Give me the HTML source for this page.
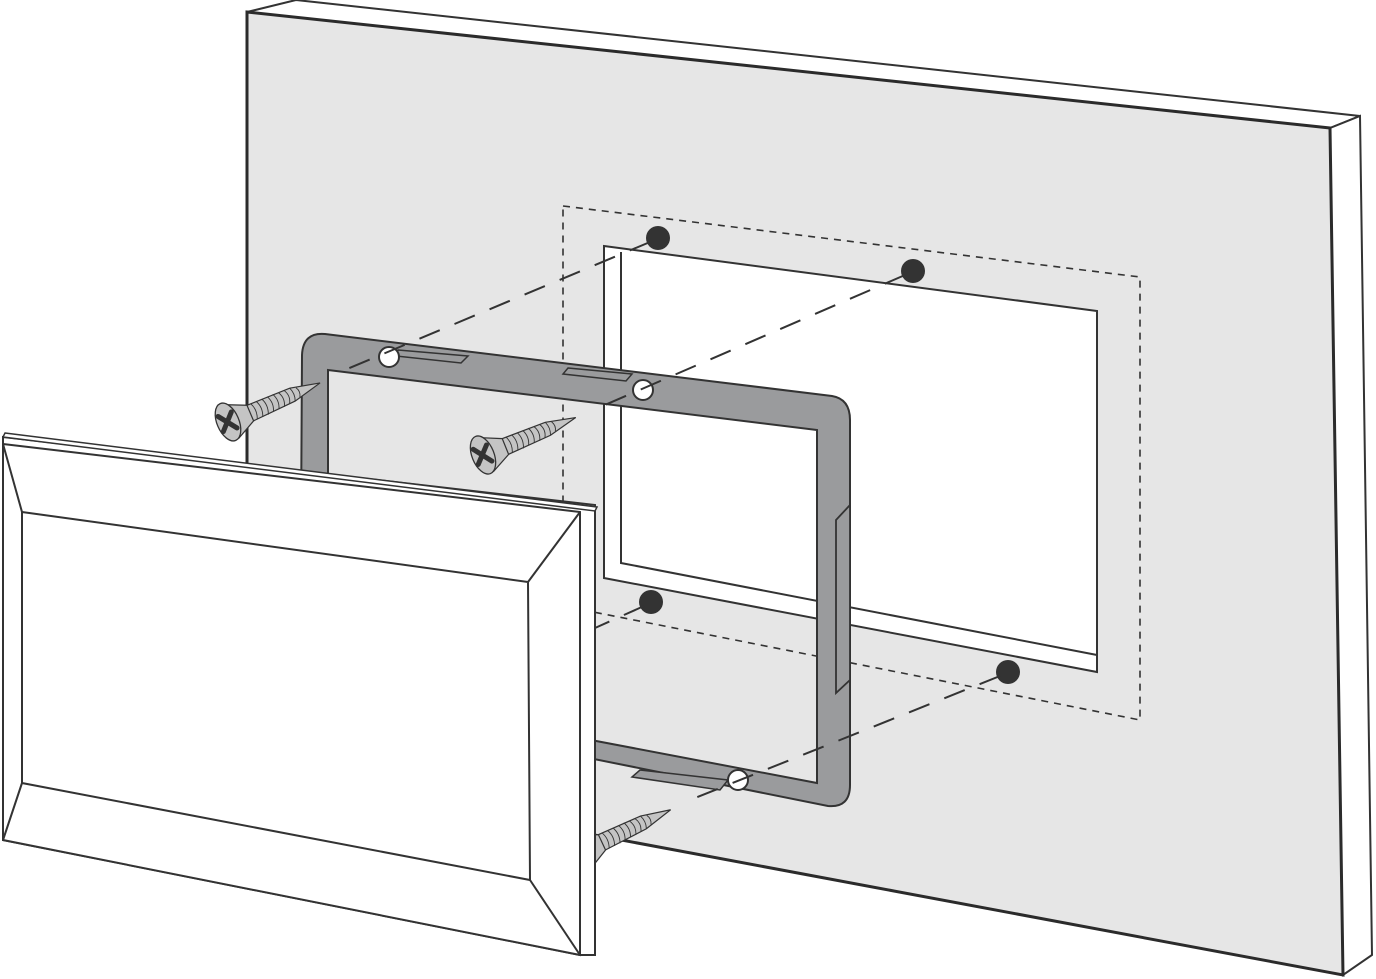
<!DOCTYPE html>
<html><head><meta charset="utf-8"><style>
html,body{margin:0;padding:0;background:#fff;}
svg{display:block}
</style></head><body>
<svg width="1376" height="979" viewBox="0 0 1376 979" xmlns="http://www.w3.org/2000/svg">
<defs>
<g id="screw">
  <path d="M22,-8 L70,-7 L100,0 L70,7 L22,9 Z" fill="#c4c4c4" stroke="#333" stroke-width="1.2"/>
  <g stroke="#333" stroke-width="0.9" fill="none">
    <path d="M28,-8 q4,8 0,17"/><path d="M34,-8 q4,8 0,17"/><path d="M40,-8 q4,8 0,17"/>
    <path d="M46,-8 q4,8 0,16"/><path d="M52,-8 q4,8 0,16"/><path d="M58,-7 q4,7 0,15"/>
    <path d="M64,-7 q4,7 0,14"/><path d="M70,-7 q3,7 0,14"/><path d="M76,-5 q3,5 0,10"/>
  </g>
  <path d="M2,-18 L24,-8 L24,9 L4,19 Z" fill="#c4c4c4" stroke="#333" stroke-width="1.2"/>
  <ellipse cx="0" cy="0" rx="11" ry="20" fill="#c4c4c4" stroke="#333" stroke-width="1.3"/>
  <path d="M-7,-9 L6,9 M-8,7 L7,-8" stroke="#333" stroke-width="5" stroke-linecap="round"/>
</g>
</defs>

<!-- wall top face -->
<polygon points="247,12 296,0 1360,116 1330,128" fill="#fff" stroke="#333" stroke-width="2"/>
<!-- wall side -->
<polygon points="1330,128 1360,116 1372,955 1343,975" fill="#fff" stroke="#333" stroke-width="2"/>
<!-- wall front -->
<polygon points="247,12 1330,128 1343,975 247,770" fill="#e6e6e6" stroke="#2b2b2b" stroke-width="3"/>

<!-- cutout -->
<polygon points="604,246 1097,311 1097,672 604,578" fill="#fff" stroke="#333" stroke-width="2"/>
<polyline points="621,252 621,563 1097,655" fill="none" stroke="#333" stroke-width="2"/>

<!-- dashed outline -->
<polygon points="563,206 1140,277 1140,720 563,606" fill="none" stroke="#333" stroke-width="1.6" stroke-dasharray="7,6"/>

<!-- dots -->
<circle cx="658" cy="238" r="12" fill="#333"/>
<circle cx="913" cy="271" r="12" fill="#333"/>
<circle cx="651" cy="602" r="12" fill="#333"/>
<circle cx="1008" cy="672" r="12" fill="#333"/>

<!-- frame -->
<path fill-rule="evenodd" fill="#9a9b9d" stroke="#333" stroke-width="2"
 d="M325,334 L832,396 Q850,399 850,420 L850,785 Q850,808 828,806 L300,700 L302,355 Q303,332 325,334 Z
    M328,370 L817,430 L817,783 L328,690 Z"/>
<!-- right tab -->
<polygon points="850,505 836,520 836,693 850,680" fill="#9a9b9d" stroke="#333" stroke-width="1.8"/>
<!-- slots -->
<polygon points="398,350 468,356 461,363 396,356" fill="#9a9b9d" stroke="#333" stroke-width="1.5"/>
<polygon points="568,368 632,374 626,381 563,374" fill="#9a9b9d" stroke="#333" stroke-width="1.5"/>
<polygon points="640,770 728,780 720,790 632,777" fill="#9a9b9d" stroke="#333" stroke-width="1.5"/>
<!-- frame holes -->
<g fill="#fff" stroke="#333" stroke-width="2">
<circle cx="389" cy="357" r="10"/><circle cx="643" cy="390" r="10"/><circle cx="738" cy="780" r="10"/>
</g>

<!-- dashed connectors -->
<g stroke="#333" stroke-width="2" stroke-dasharray="22,16" fill="none">
<line x1="650" y1="242" x2="340" y2="372"/>
<line x1="905" y1="275" x2="598" y2="408"/>
<line x1="644" y1="606" x2="595" y2="628"/>
<line x1="1000" y1="676" x2="690" y2="800"/>
</g>

<!-- screws -->
<use href="#screw" transform="translate(228,422) rotate(-23)"/>
<use href="#screw" transform="translate(483,455) rotate(-22)"/>
<use href="#screw" transform="translate(580,852) rotate(-25)"/>

<!-- cover plate -->
<polygon points="3,437 595,505 595,955 580,955 3,840" fill="#fff" stroke="#333" stroke-width="2"/>
<polygon points="5,433 597,507 595,511 3,437" fill="#fff" stroke="#333" stroke-width="1.5"/>
<line x1="580" y1="512" x2="580" y2="955" stroke="#333" stroke-width="2"/>
<polygon points="3,444 580,512 580,955 3,840" fill="#fff" stroke="#333" stroke-width="2"/>
<polygon points="22,512 528,582 530,880 22,783" fill="#fff" stroke="#333" stroke-width="2"/>
<g stroke="#333" stroke-width="2">
<line x1="3" y1="444" x2="22" y2="512"/>
<line x1="580" y1="512" x2="528" y2="582"/>
<line x1="580" y1="955" x2="530" y2="880"/>
<line x1="3" y1="840" x2="22" y2="783"/>
</g>
</svg>
</body></html>
